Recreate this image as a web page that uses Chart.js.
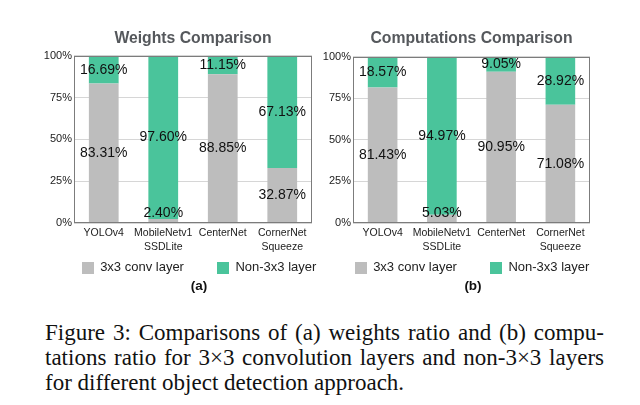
<!DOCTYPE html>
<html>
<head>
<meta charset="utf-8">
<script src="https://cdn.jsdelivr.net/npm/chart.js@4.4.0/dist/chart.umd.min.js"></script>
<style>
html,body{margin:0;padding:0;background:#fff;}
body{width:640px;height:405px;position:relative;overflow:hidden;font-family:"Liberation Sans",Arial,sans-serif;}
canvas{position:absolute;top:0;}
#ca{left:0;}
#cb{left:320px;}
.sub{position:absolute;top:278px;width:60px;margin-left:-30px;text-align:center;font-weight:bold;font-size:13.5px;line-height:16px;color:#111;}
.cap{position:absolute;left:45px;top:320px;width:559px;font-family:"Liberation Serif","Times New Roman",serif;font-size:23px;line-height:25px;color:#111;}
.cap div{text-align:justify;}
.cap .j{text-align-last:justify;}
</style>
</head>
<body>
<canvas id="ca" width="320" height="300"></canvas>
<canvas id="cb" width="320" height="300"></canvas>
<div class="sub" style="left:199px">(a)</div>
<div class="sub" style="left:473px">(b)</div>
<div class="cap">
<div class="j">Figure 3: Comparisons of (a) weights ratio and (b) compu-</div>
<div class="j">tations ratio for 3×3 convolution layers and non-3×3 layers</div>
<div>for different object detection approach.</div>
</div>
<script>
const categories = [['YOLOv4'], ['MobileNetv1', 'SSDLite'], ['CenterNet'], ['CornerNet', 'Squeeze']];
const seriesNames = ['3x3 conv layer', 'Non-3x3 layer'];
const weightsConv = [83.31, 2.40, 88.85, 32.87];
const weightsNon = [16.69, 97.60, 11.15, 67.13];
const compConv = [81.43, 5.03, 90.95, 71.08];
const compNon = [18.57, 94.97, 9.05, 28.92];
const titles = ['Weights Comparison', 'Computations Comparison'];

const GRAY = '#BDBDBD';
const GREEN = '#4AC49B';
const FONT = '"Liberation Sans", Arial, sans-serif';

const boxPlugin = {
  id: 'boxPlugin',
  afterDatasetsDraw(chart) {
    const {ctx, chartArea: a} = chart;
    ctx.save();
    ctx.strokeStyle = '#7c7c7c';
    ctx.lineWidth = 1;
    ctx.strokeRect(Math.round(a.left) + 0.5, Math.round(a.top) + 0.5, Math.round(a.right - a.left) - 1, Math.round(a.bottom - a.top) - 1);
    ctx.restore();
  }
};

const labelPlugin = {
  id: 'labelPlugin',
  afterDatasetsDraw(chart) {
    const {ctx, chartArea} = chart;
    ctx.save();
    ctx.font = '14px ' + FONT;
    ctx.fillStyle = '#111';
    ctx.textAlign = 'center';
    ctx.textBaseline = 'middle';
    chart.data.datasets.forEach((ds, di) => {
      const meta = chart.getDatasetMeta(di);
      meta.data.forEach((bar, i) => {
        let y = (bar.y + bar.base) / 2;
        y = Math.min(y, chartArea.bottom - 10);
        y = Math.max(y, chartArea.top + 6);
        ctx.fillText(ds.data[i].toFixed(2) + '%', bar.x, y);
      });
    });
    ctx.restore();
  }
};

// legend drawn from the datasets' labels and colours
const legendPlugin = {
  id: 'legendPlugin',
  afterDraw(chart, args, opts) {
    const {ctx} = chart;
    const box = 12, gapText = 6.5, gapItem = 33;
    ctx.save();
    ctx.font = '13px ' + FONT;
    ctx.textBaseline = 'middle';
    ctx.textAlign = 'left';
    const items = chart.data.datasets.map(ds => ({text: ds.label, color: ds.backgroundColor, w: box + gapText + ctx.measureText(ds.label).width}));
    const total = items.reduce((s, it) => s + it.w, 0) + gapItem * (items.length - 1);
    let x = opts.cx - total / 2;
    const y = opts.cy;
    items.forEach(it => {
      ctx.fillStyle = it.color;
      ctx.fillRect(Math.round(x), Math.round(y - box / 2), box, box);
      ctx.fillStyle = '#222';
      ctx.fillText(it.text, x + box + gapText, y);
      x += it.w + gapItem;
    });
    ctx.restore();
  }
};

function makeChart(id, title, conv, non, pad, titlePad, legendPos) {
  return new Chart(document.getElementById(id), {
    type: 'bar',
    data: {
      labels: categories,
      datasets: [
        {label: seriesNames[0], data: conv, backgroundColor: GRAY, borderWidth: 0},
        {label: seriesNames[1], data: non, backgroundColor: GREEN, borderWidth: 0}
      ]
    },
    options: {
      responsive: false,
      animation: false,
      devicePixelRatio: 1,
      layout: {padding: pad},
      datasets: {bar: {barPercentage: 0.5, categoryPercentage: 1.0}},
      scales: {
        x: {
          stacked: true,
          grid: {display: false, drawTicks: false},
          border: {display: false},
          ticks: {
            maxRotation: 0, minRotation: 0, autoSkip: false, padding: 3.2,
            color: '#222', font: {family: FONT, size: 10.5, lineHeight: 1.3}
          },
          afterFit(s) { s.height = 33; }
        },
        y: {
          stacked: true,
          min: 0, max: 100,
          grid: {color: '#d6d6d6', lineWidth: 1, drawTicks: false},
          border: {display: false},
          ticks: {
            stepSize: 25, padding: 2,
            color: '#222', font: {family: FONT, size: 11},
            callback: v => v + '%'
          },
          afterFit(s) { s.width = 30; }
        }
      },
      plugins: {
        title: {
          display: true, text: title, fullSize: false,
          color: '#55585c',
          font: {family: FONT, size: 15.75, weight: 'bold', lineHeight: 1.2},
          padding: titlePad
        },
        legend: {display: false},
        tooltip: {enabled: false},
        legendPlugin: legendPos
      }
    },
    plugins: [boxPlugin, labelPlugin, legendPlugin]
  });
}

makeChart('ca', titles[0], weightsConv, weightsNon, {left: 44, right: 8, top: 0, bottom: 44}, {top: 29.4, bottom: 7.4}, {cx: 199, cy: 267.5});
makeChart('cb', titles[1], compConv, compNon, {left: 3, right: 50, top: 0, bottom: 44}, {top: 29.4, bottom: 8.4}, {cx: 152, cy: 267.5});
</script>
</body>
</html>
